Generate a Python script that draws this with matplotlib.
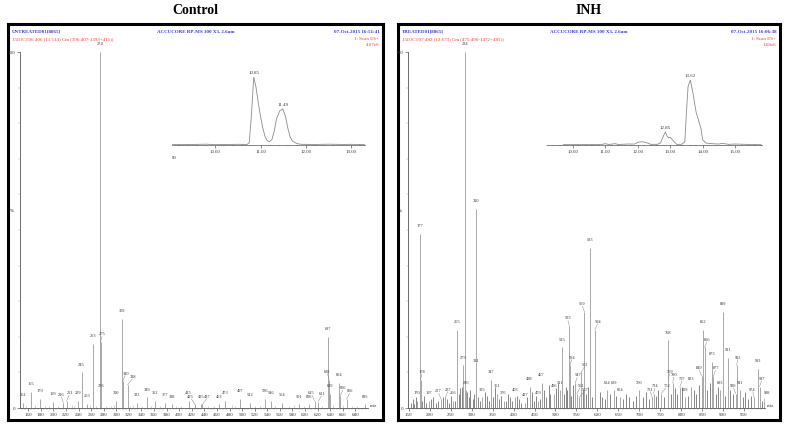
import matplotlib
matplotlib.use("Agg")
import matplotlib.pyplot as plt
import numpy as np

plt.rcParams['font.family'] = ['Liberation Serif', 'DejaVu Serif']

# ---- Control spectrum (labelled peaks, % rel. intensity)
ctrl_mz = [151, 165, 179, 199, 216, 221, 239, 245, 253, 263, 274, 275, 276, 300,
           309, 310, 318, 333, 349, 362, 377, 388, 415, 425, 435, 437, 463, 473,
           497, 512, 536, 546, 564, 591, 606, 615, 621, 637, 638, 639, 654, 656,
           666, 695]
ctrl_int = [1.5, 4.5, 2.5, 1.8, 1.5, 2.0, 2.0, 10, 1.2, 18, 100, 18.5, 4.0, 2.0,
            25, 7.5, 6.5, 1.5, 3.0, 2.0, 1.5, 1.0, 2.0, 1.0, 1.0, 1.0, 1.0, 2.0,
            2.5, 1.5, 2.5, 2.0, 1.5, 1.0, 1.0, 2.0, 1.8, 20, 8.0, 4.0, 7.0, 3.5,
            2.5, 1.0]
ctrl_noise_mz = [156, 171, 186, 193, 207, 229, 233, 258, 268, 283, 291, 296, 322,
                 327, 341, 355, 369, 395, 403, 446, 455, 484, 489, 521, 528, 553,
                 575, 583, 598, 627, 645, 661, 674, 683]
ctrl_noise_int = [0.6, 0.8, 0.5, 0.7, 0.6, 0.9, 0.5, 0.8, 0.6, 0.7, 0.5, 0.8, 0.6,
                  0.9, 0.5, 0.7, 0.6, 0.5, 0.7, 0.6, 0.5, 0.8, 0.6, 0.5, 0.7, 0.6,
                  0.5, 0.8, 0.6, 0.7, 0.9, 0.8, 0.6, 0.5]

# ---- INH spectrum
inh_mz = [170, 177, 178, 197, 227, 237, 256, 265, 279, 284, 286, 310, 311, 325,
          347, 361, 376, 403, 427, 438, 459, 467, 496, 511, 515, 533, 534, 547,
          551, 557, 561, 569, 583, 594, 624, 639, 654, 700, 731, 734, 752, 768,
          769, 780, 797, 809, 823, 849, 852, 856, 873, 877, 893, 899, 911, 930,
          932, 941, 974, 983, 987, 998]
inh_int = [2.0, 49, 8.0, 2.0, 2.5, 3.0, 2.0, 22, 12, 100, 5.0, 56, 11, 3.0,
           8.0, 4.0, 2.0, 3.0, 1.5, 6.0, 2.0, 7.0, 4.0, 5.0, 17, 23, 12, 7.0,
           4.0, 3.0, 10, 27, 45, 22, 5.0, 5.0, 3.0, 5.0, 3.0, 4.0, 4.0, 19,
           8.0, 7.0, 6.0, 3.0, 6.0, 9.0, 22, 17, 13, 9.0, 5.0, 27, 14, 4.0,
           12, 5.0, 3.0, 11, 6.0, 2.0]
inh_noise_mz = [155, 160, 163, 168, 182, 186, 190, 203, 208, 214, 219, 231, 242,
                247, 251, 261, 270, 273, 277, 289, 293, 297, 302, 305, 316, 320,
                331, 336, 341, 352, 356, 366, 371, 381, 386, 392, 397, 408, 413,
                418, 432, 443, 449, 454, 463, 472, 478, 484, 488, 501, 505, 520,
                524, 528, 538, 541, 565, 573, 577, 588, 606, 612, 618, 631, 645,
                660, 668, 676, 684, 691, 708, 715, 722, 740, 745, 759, 775, 785,
                790, 803, 816, 830, 836, 842, 862, 868, 883, 888, 905, 917, 923,
                947, 953, 960, 966, 993]
inh_noise_int = [1.5, 2.5, 1.0, 3.0, 2.0, 3.5, 1.5, 2.5, 3.0, 1.5, 2.0, 3.0, 2.5,
                 1.5, 3.5, 2.0, 4.0, 5.5, 6.0, 4.5, 3.0, 5.0, 2.5, 4.0, 3.0, 2.0,
                 4.5, 3.5, 2.0, 3.0, 6.0, 2.5, 3.5, 2.0, 4.0, 3.0, 2.0, 3.5, 2.5,
                 1.5, 3.0, 4.5, 2.0, 3.5, 2.5, 5.0, 3.0, 6.5, 4.0, 5.5, 7.0, 4.0,
                 6.0, 5.0, 3.5, 6.5, 5.0, 4.0, 6.0, 3.0, 4.5, 3.0, 2.5, 4.0, 3.5,
                 2.5, 4.0, 3.0, 2.0, 3.5, 3.0, 4.5, 2.5, 3.5, 5.0, 3.0, 4.0, 5.5,
                 4.0, 6.0, 3.5, 5.0, 4.0, 6.5, 5.0, 7.0, 4.0, 6.0, 3.5, 5.0, 4.0,
                 3.0, 4.5, 2.5, 3.5, 2.0]

# ---- chromatogram insets (time min, % of tallest peak)
ctrl_rt = [9.05, 9.5, 9.8, 10.0, 10.3, 10.5, 10.7, 10.75, 10.8, 10.85, 10.9, 10.95,
           11.0, 11.05, 11.1, 11.15, 11.2, 11.25, 11.3, 11.35, 11.42, 11.49, 11.55,
           11.6, 11.65, 11.7, 11.8, 11.9, 12.2, 12.5, 12.8, 13.0, 13.3]
ctrl_tic = [0.5, 0.8, 1.2, 0.5, 0.8, 1.0, 0.8, 3, 45, 100, 85, 62,
            42, 25, 12, 6, 5, 8, 20, 38, 50, 53, 42,
            25, 12, 6, 2, 1, 0.8, 1.2, 0.8, 1.0, 0.5]
inh_rt = [9.7, 10.5, 10.9, 11.0, 11.1, 11.3, 11.4, 11.7, 11.9, 12.0, 12.1, 12.2,
          12.3, 12.4, 12.6, 12.7, 12.8, 12.85, 12.9, 12.95, 13.0, 13.1, 13.2, 13.35,
          13.45, 13.5, 13.55, 13.62, 13.7, 13.8, 13.85, 13.95, 14.0, 14.1, 14.3,
          14.5, 14.6, 14.8, 15.0, 15.3, 15.8]
inh_tic = [0.5, 0.6, 1, 2, 0.8, 2, 0.8, 1.5, 1.5, 4, 5, 4.5,
           3, 1, 1, 3, 15, 20, 14, 11, 12, 6, 1, 1,
           5, 50, 90, 100, 80, 50, 42, 25, 8, 3, 2,
           1.5, 2.5, 1, 1.5, 1, 0.5]

W, H = 786, 429
BLUE = '#3a3ad0'
RED = '#e8413a'
PEAK = '#a8a8a8'
LBL = '#333333'

# sideways nudges (m/z units) so crowded peak labels don't collide
CTRL_NUDGE = {216: -4, 221: 5, 275: 3, 310: 5, 318: 9, 425: -7, 437: 8,
              615: -5, 621: 6, 638: -3, 656: 5, 666: 6}
INH_NUDGE = {227: -7, 237: 7, 178: 4, 533: -4, 534: 6, 547: 6, 551: 9,
             557: 14, 561: 10, 569: -6, 594: 8, 731: -6, 734: 4, 752: 14,
             769: 4, 780: 2, 797: 6, 849: -7, 856: 6, 877: 6, 930: -6, 932: 4,
             987: 6, 974: -4, 998: 6}


def frac(x0, y0, x1, y1):
    return [x0 / W, 1 - y1 / H, (x1 - x0) / W, (y1 - y0) / H]


fig = plt.figure(figsize=(W / 100, H / 100), dpi=100)


def panel(box, spec, ins, title, hdr, mz, inten, nudge, nmz, nint, xlim, major,
          minor, rt, tic, rt_lim, rt_ticks, rt_lbls, noise_col):
    bx = fig.add_axes(frac(*box))
    bx.set_xticks([]); bx.set_yticks([])
    for s in bx.spines.values():
        s.set_linewidth(2.2)
    bx.text(0.5, 1.018, title, transform=bx.transAxes, ha='center', va='bottom',
            fontsize=10, fontweight='bold')
    bx.text(0.01, 0.985, hdr[0], transform=bx.transAxes, color=BLUE, fontsize=3.6,
            fontweight='bold', va='top')
    bx.text(0.5, 0.985, hdr[1], transform=bx.transAxes, color=BLUE, fontsize=3.6,
            fontweight='bold', va='top', ha='center')
    bx.text(0.99, 0.985, hdr[2], transform=bx.transAxes, color=BLUE, fontsize=3.6,
            fontweight='bold', va='top', ha='right')
    bx.text(0.01, 0.967, hdr[3], transform=bx.transAxes, color=RED, fontsize=3.6,
            va='top')
    bx.text(0.99, 0.967, '1: Scan ES+', transform=bx.transAxes, color=RED,
            fontsize=3.6, va='top', ha='right')
    bx.text(0.99, 0.951, hdr[4], transform=bx.transAxes, color=RED, fontsize=3.6,
            va='top', ha='right')

    ax = fig.add_axes(frac(*spec))
    ax.patch.set_alpha(0)
    ax.vlines(nmz, 0, nint, color=noise_col, lw=0.5)
    ax.vlines(mz, 0, inten, color=PEAK, lw=0.7)
    for m, v in zip(mz, inten):
        dx = nudge.get(m, 0)
        ax.text(m + dx, v + 1.6, str(m), ha='center', va='bottom', fontsize=3.2,
                color=LBL)
        if dx:
            ax.plot([m, m + dx * 0.8], [v, v + 1.6], color='#777777', lw=0.3)
    ax.set_xlim(*xlim)
    ax.set_ylim(0, 100)
    for s in ['top', 'right']:
        ax.spines[s].set_visible(False)
    for s in ['left', 'bottom']:
        ax.spines[s].set_linewidth(0.6)
        ax.spines[s].set_color('#555555')
    ax.set_xticks(major)
    ax.set_xticklabels([str(t) for t in major])
    ax.set_xticks(minor, minor=True)
    ax.set_yticks([0, 100])
    ax.set_yticklabels(['0', '100'])
    ax.set_yticks(np.arange(0, 101, 10), minor=True)
    ax.tick_params(labelsize=3.6, length=2, width=0.4, pad=1.5, colors='#333333')
    ax.tick_params(which='minor', length=1.2, width=0.3, colors='#999999')
    ax.text(-0.018, 0.55, '%', transform=ax.transAxes, fontsize=3.6, ha='right')
    ax.text(1.005, 0.0, 'm/z', transform=ax.transAxes, fontsize=3.6, va='bottom',
            color='#333333')

    ix = fig.add_axes(frac(*ins))
    ix.patch.set_alpha(0)
    ix.plot(rt, tic, color='#8a8a8a', lw=0.6)
    top = int(np.argmax(tic))
    ix.text(rt[top], tic[top] + 3, f'{rt[top]:.2f}', ha='center', va='bottom',
            fontsize=3.5, color=LBL)
    ix.set_xlim(*rt_lim)
    ix.set_ylim(0, 100)
    for s in ['top', 'right', 'left']:
        ix.spines[s].set_visible(False)
    ix.spines['bottom'].set_linewidth(0.5)
    ix.spines['bottom'].set_color('#555555')
    ix.set_yticks([])
    ix.set_xticks(rt_ticks)
    ix.set_xticklabels(rt_lbls)
    ix.set_xticks(np.arange(9.2, rt_lim[1], 0.2), minor=True)
    ix.tick_params(labelsize=3.5, length=1.8, width=0.4, pad=2, colors='#333333')
    ix.tick_params(which='minor', length=1.0, width=0.3)
    return ix


ix1 = panel((8, 24, 383, 420), (20, 52, 368, 408), (172, 77, 365, 145), 'Control',
            ['UNTREATED01[8865]', 'ACCUCORE RP-MS 100 X3, 2.6um',
             '07-Oct-2015 16:51:41', '15IOCT06 406 (11.514) Cm (396:407-1393+411))',
             '4.07e6'],
            ctrl_mz, ctrl_int, CTRL_NUDGE, ctrl_noise_mz, ctrl_noise_int, (147, 700),
            list(range(160, 700, 20)), list(range(150, 700, 5)),
            ctrl_rt, ctrl_tic, (9.05, 13.3), [10, 11, 12, 13],
            ['10.00', '11.00', '12.00', '13.00'], '#bbbbbb')
# second labelled peak of the control chromatogram
ix1.text(11.49, 56, '11.49', ha='center', va='bottom', fontsize=3.5, color=LBL)
ix1.text(9.1, -0.16, '00', transform=ix1.get_xaxis_transform(), fontsize=3.5,
         color='#333333', ha='center', va='top')

ix2 = panel((398, 24, 780, 420), (408, 52, 765, 408), (547, 80, 762, 145), 'INH',
            ['TREATED01[8865]', 'ACCUCORE RP-MS 100 X3, 2.6um',
             '07-Oct-2015 16:06:38', '15IOCT07 482 (13.673) Cm (475:490-1472+485))',
             '1.68e6'],
            inh_mz, inh_int, INH_NUDGE, inh_noise_mz, inh_noise_int, (148, 1000),
            list(range(150, 1000, 50)), list(range(150, 1000, 10)),
            inh_rt, inh_tic, (9.69, 15.83), [10, 11, 12, 13, 14, 15],
            ['10.00', '11.00', '12.00', '13.00', '14.00', '15.00'], '#555555')
ix2.text(12.85, 23, '12.85', ha='center', va='bottom', fontsize=3.5, color=LBL)

fig.savefig('out.png', dpi=100)
